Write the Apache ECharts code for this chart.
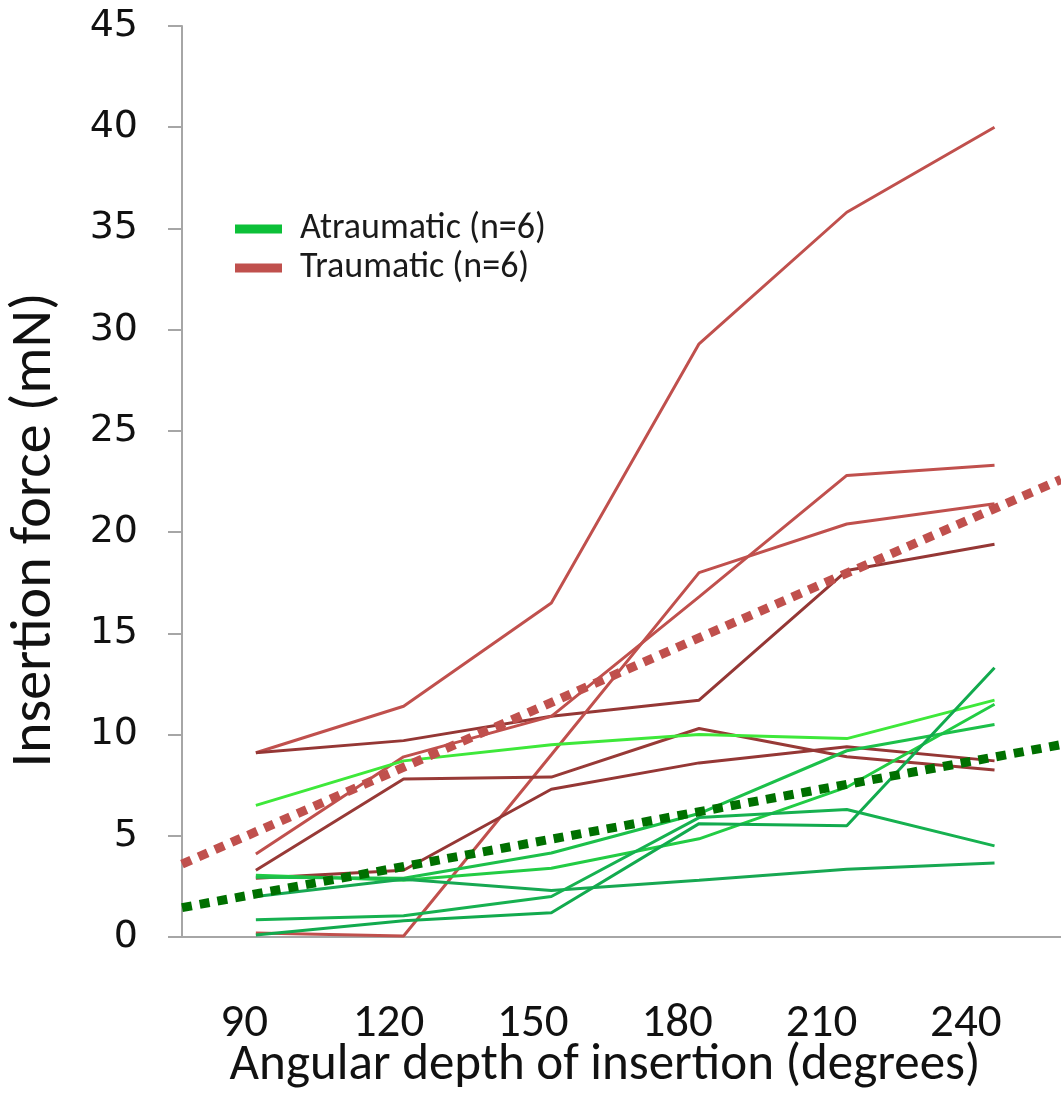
<!DOCTYPE html>
<html>
<head>
<meta charset="utf-8">
<script src="https://cdn.jsdelivr.net/npm/echarts@6/dist/echarts.min.js"></script>
<style>
html,body{margin:0;padding:0;background:#fff;}
#chart{width:1061px;height:1093px;}
</style>
</head>
<body>
<div id="chart"></div>
<script>
// Angular depth of insertion (degrees)
const depths = [90, 120, 150, 180, 210, 240];
const depthLabels = ['90', '120', '150', '180', '210', '240'];

// Atraumatic electrodes (n=6), insertion force in mN
const atraumatic1 = [6.5, 8.7, 9.5, 10.0, 9.8, 11.7];
const atraumatic2 = [3.05, 2.8, 3.4, 4.85, 7.4, 11.5];
const atraumatic3 = [2.95, 2.9, 4.15, 6.1, 9.2, 10.5];
const atraumatic4 = [2.0, 2.85, 2.3, 2.8, 3.35, 3.65];
const atraumatic5 = [0.85, 1.05, 2.0, 5.9, 6.3, 4.5];
const atraumatic6 = [0.1, 0.8, 1.2, 5.6, 5.5, 13.3];

// Traumatic electrodes (n=6), insertion force in mN
const traumatic1 = [9.1, 11.4, 16.5, 29.3, 35.8, 40.0];
const traumatic2 = [9.1, 9.7, 10.9, 11.7, 18.1, 19.4];
const traumatic3 = [4.1, 8.9, 10.9, 16.8, 22.8, 23.3];
const traumatic4 = [0.2, 0.05, 9.0, 18.0, 20.4, 21.4];
const traumatic5 = [3.3, 7.8, 7.9, 10.3, 8.9, 8.25];
const traumatic6 = [2.9, 3.3, 7.3, 8.6, 9.4, 8.7];

// Linear trendlines (endpoints)
const trendDepths = [75, 253.5];
const atraumaticTrend = [1.45, 9.5];
const traumaticTrend = [3.6, 22.6];

const yTicks = [0, 5, 10, 15, 20, 25, 30, 35, 40, 45];

const nameA = 'Atraumatic (n=6)';
const nameT = 'Traumatic (n=6)';

const FONT = "Carlito, Calibri, 'Liberation Sans', sans-serif";

function pts(xs, ys){ return xs.map((x,i)=>[x, ys[i]]); }

const aSeries = [atraumatic1, atraumatic2, atraumatic3, atraumatic4, atraumatic5, atraumatic6];
const aColors = ['#3ee83a', '#22cc44', '#1cc04a', '#17a852', '#16b150', '#12aa4e'];
const tSeries = [traumatic1, traumatic2, traumatic3, traumatic4, traumatic5, traumatic6];
const tColors = ['#c0504d', '#953735', '#c0504d', '#c0504d', '#983a37', '#953735'];

const series = [];
tSeries.forEach((d,i)=>series.push({
  name: nameT, type:'line', xAxisIndex:0, yAxisIndex:0, data: pts(depths, d), showSymbol:false, symbol:'none',
  lineStyle:{color:tColors[i], width:3}, itemStyle:{color:tColors[i]}, z:2, silent:true
}));
aSeries.forEach((d,i)=>series.push({
  name: nameA, type:'line', xAxisIndex:0, yAxisIndex:0, data: pts(depths, d), showSymbol:false, symbol:'none',
  lineStyle:{color:aColors[i], width:3}, itemStyle:{color:aColors[i]}, z:3, silent:true
}));
series.push({
  name:'traumaticTrend', type:'line', xAxisIndex:0, yAxisIndex:0, data: pts(trendDepths, traumaticTrend), symbol:'none',
  lineStyle:{color:'#c0504d', width:9, type:[10,8], cap:'butt'}, z:4, silent:true
});
series.push({
  name:'atraumaticTrend', type:'line', xAxisIndex:0, yAxisIndex:0, data: pts(trendDepths, atraumaticTrend), symbol:'none',
  lineStyle:{color:'#007000', width:9, type:[10,8], cap:'butt'}, z:5, silent:true
});

const chart = echarts.init(document.getElementById('chart'), null, {renderer:'canvas'});
chart.setOption({
  animation:false,
  backgroundColor:'#ffffff',
  grid:[
    {left:182, right:0, top:26, bottom:156, containLabel:false, outerBoundsMode:'none'},
    {left:172, width:866, top:26, bottom:156, containLabel:false, outerBoundsMode:'none'}
  ],
  legend:{
    left:230, top:206, orient:'vertical', itemGap:3,
    itemWidth:47, itemHeight:9, icon:'rect',
    textStyle:{fontFamily:FONT, fontSize:36, color:'#1a1a1a', padding:[0,0,0,13]},
    data:[
      {name:nameA, itemStyle:{color:'#0cc038'}},
      {name:nameT, itemStyle:{color:'#c0504d'}}
    ],
    selectedMode:false
  },
  xAxis:[
    {
      gridIndex:0, type:'value', min:75, max:253.5, interval:15,
      axisLine:{show:true, lineStyle:{color:'#a6a6a6', width:2}},
      axisTick:{show:false},
      splitLine:{show:false},
      axisLabel:{show:false}
    },
    {
      gridIndex:1, type:'category', data:depthLabels, boundaryGap:true,
      name:'Angular depth of insertion (degrees)', nameLocation:'middle', nameGap:104,
      nameMoveOverlap:false,
      nameTextStyle:{fontFamily:FONT, fontSize:51, color:'#111'},
      axisLine:{show:false}, axisTick:{show:false}, splitLine:{show:false},
      axisLabel:{margin:64, fontFamily:FONT, fontSize:47, color:'#111', interval:0}
    }
  ],
  yAxis:[
    {
      gridIndex:0, type:'value', min:yTicks[0], max:yTicks[yTicks.length-1], interval:5,
      name:'Insertion force (mN)', nameLocation:'middle', nameGap:118, nameRotate:90,
      nameMoveOverlap:false,
      nameTextStyle:{fontFamily:FONT, fontSize:58, color:'#111', padding:[0,97,0,0]},
      axisLine:{show:true, lineStyle:{color:'#a6a6a6', width:2}},
      axisTick:{show:true, inside:false, length:14, lineStyle:{color:'#a6a6a6', width:2}},
      splitLine:{show:false},
      axisLabel:{margin:44, fontFamily:"'DejaVu Sans', sans-serif", fontSize:38, color:'#111'}
    },
    {
      gridIndex:1, type:'value', min:0, max:45, show:false
    }
  ],
  series: series
});
</script>
</body>
</html>
